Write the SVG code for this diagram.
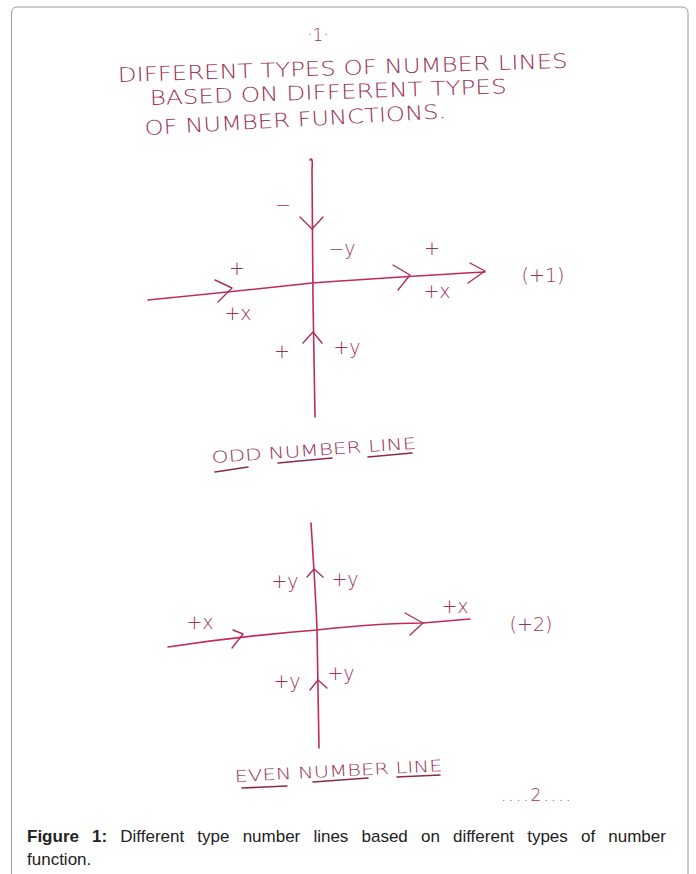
<svg xmlns="http://www.w3.org/2000/svg" width="696" height="874" viewBox="0 0 696 874">
<style>
.hw{font-family:"DejaVu Sans","Liberation Sans",sans-serif;font-weight:200;fill:#9a3358;}
.ax{fill:none;stroke:#c12a5c;stroke-width:1.6;stroke-linecap:round;stroke-linejoin:round;}
.ah{fill:none;stroke:#a8305a;stroke-width:1.4;stroke-linecap:round;stroke-linejoin:round;}
.ul{fill:none;stroke:#8a2a4c;stroke-width:1.6;stroke-linecap:round;}
.lb{font-family:"DejaVu Sans","Liberation Sans",sans-serif;font-weight:200;font-size:19px;fill:#9a3358;text-anchor:middle;}
.cap{font-family:"Liberation Sans",Arial,sans-serif;font-size:17px;fill:#222;}
</style>
<rect x="0" y="0" width="696" height="874" fill="#ffffff"/>
<path d="M11.5,880 V13 Q11.5,7 17.5,7 H682 Q688,7 688,13 V880" fill="none" stroke="#9a9a9a" stroke-width="1"/>

<g id="title">
<text class="hw" x="318" y="41" font-size="17" text-anchor="middle">·1·</text>
<text class="hw" x="118" y="82" font-size="20" textLength="450" lengthAdjust="spacingAndGlyphs" transform="rotate(-1.8 118 82)">DIFFERENT TYPES OF NUMBER LINES</text>
<text class="hw" x="150" y="105" font-size="20" textLength="357" lengthAdjust="spacingAndGlyphs" transform="rotate(-1.9 150 105)">BASED ON DIFFERENT TYPES</text>
<text class="hw" x="145" y="135" font-size="20" textLength="302" lengthAdjust="spacingAndGlyphs" transform="rotate(-3.2 145 135)">OF NUMBER FUNCTIONS.</text>
</g>

<g id="odd-axes">
<path class="ax" d="M310,160 Q313,156 312,170 L313,300 L315,417"/>
<path class="ax" d="M148,300 Q230,292 312,283 Q410,276 485,272"/>
<polyline class="ah" points="300,217 312,229 323,217"/>
<polyline class="ah" points="215,280 232,288 218,302"/>
<polyline class="ah" points="393,265 410,275 398,290"/>
<polyline class="ah" points="470,263 485,271 468,283"/>
<polyline class="ah" points="303,343 313,332 322,343"/>
</g>

<g id="odd-labels">
<text class="lb" x="283" y="211">−</text>
<text class="lb" x="342" y="255">−y</text>
<text class="lb" x="432" y="255">+</text>
<text class="lb" x="237" y="275">+</text>
<text class="lb" x="238" y="320">+x</text>
<text class="lb" x="437" y="298" font-size="17">+x</text>
<text class="lb" x="543" y="282" font-size="26">(+1)</text>
<text class="lb" x="282" y="358">+</text>
<text class="lb" x="347" y="354">+y</text>
</g>

<g id="odd-caption">
<text class="hw" x="212" y="463" font-size="16" textLength="205" lengthAdjust="spacingAndGlyphs" transform="rotate(-4 212 463)">ODD NUMBER LINE</text>
<line class="ul" x1="215" y1="472" x2="248" y2="467"/>
<line class="ul" x1="278" y1="463" x2="332" y2="458"/>
<line class="ul" x1="368" y1="457" x2="412" y2="453"/>
</g>

<g id="even-axes">
<path class="ax" d="M311,523 Q316,600 317,630 L319,748"/>
<path class="ax" d="M168,647 Q240,636 317,630 Q380,623 423,623 L470,619"/>
<polyline class="ah" points="233,630 243,634 232,648"/>
<polyline class="ah" points="405,613 423,623 410,635"/>
<polyline class="ah" points="307,577 314,569 323,577"/>
<polyline class="ah" points="310,690 318,680 327,688"/>
</g>

<g id="even-labels">
<text class="lb" x="285" y="588">+y</text>
<text class="lb" x="345" y="586">+y</text>
<text class="lb" x="200" y="629">+x</text>
<text class="lb" x="455" y="613">+x</text>
<text class="lb" x="531" y="631" font-size="25">(+2)</text>
<text class="lb" x="287" y="688">+y</text>
<text class="lb" x="341" y="680">+y</text>
</g>

<g id="even-caption">
<text class="hw" x="235" y="782" font-size="16" textLength="208" lengthAdjust="spacingAndGlyphs" transform="rotate(-3 235 782)">EVEN NUMBER LINE</text>
<line class="ul" x1="242" y1="788" x2="287" y2="786"/>
<line class="ul" x1="313" y1="782" x2="368" y2="778"/>
<line class="ul" x1="397" y1="777" x2="440" y2="775"/>
<text class="hw" x="537" y="801" font-size="17" letter-spacing="2" text-anchor="middle">....2....</text>
</g>

<g id="figure-caption">
<text class="cap" x="27" y="842" word-spacing="8.4"><tspan font-weight="bold">Figure 1:</tspan> Different type number lines based on different types of number</text>
<text class="cap" x="27" y="865">function.</text>
</g>
</svg>
